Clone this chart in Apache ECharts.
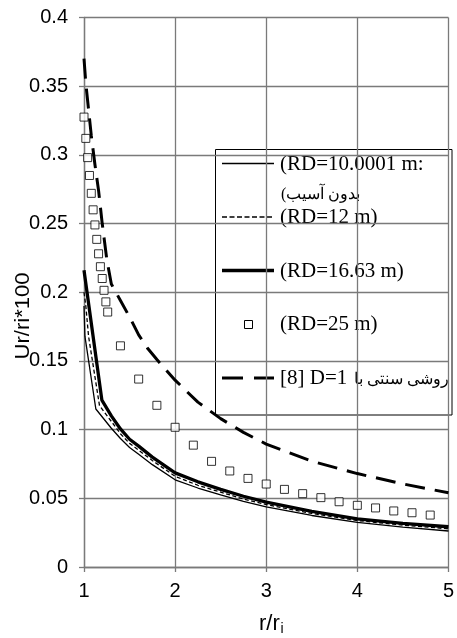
<!DOCTYPE html>
<html><head><meta charset="utf-8">
<script src="https://cdn.jsdelivr.net/npm/echarts@6/dist/echarts.min.js"></script>
<style>html,body{margin:0;padding:0;background:#fff}#c{width:457px;height:638px}</style>
</head><body><div id="c"></div>
<script>
// ---- data ----
const rd10X = [1.0, 1.01, 1.13, 1.3, 1.4, 1.5, 1.6, 1.75, 2.0, 2.25, 2.5, 2.75, 3.0, 3.5, 4.0, 4.5, 5.0];
const rd10Y = [0.190, 0.168, 0.115, 0.101, 0.0935, 0.0870, 0.082, 0.0745, 0.0635, 0.0575, 0.0525, 0.0478, 0.0438, 0.0375, 0.0325, 0.0290, 0.0262];

const rd12X = [1.0, 1.02, 1.05, 1.17, 1.3, 1.4, 1.5, 1.6, 1.75, 2.0, 2.25, 2.5, 2.75, 3.0, 3.5, 4.0, 4.5, 5.0];
const rd12Y = [0.200, 0.190, 0.168, 0.1175, 0.106, 0.097, 0.0900, 0.085, 0.0775, 0.0660, 0.0595, 0.0545, 0.0495, 0.0455, 0.0390, 0.0338, 0.0305, 0.0278];

const rd1663X = [1.0, 1.196, 1.3, 1.4, 1.5, 1.6, 1.75, 2.0, 2.25, 2.5, 2.75, 3.0, 3.5, 4.0, 4.5, 5.0];
const rd1663Y = [0.216, 0.1215, 0.110, 0.1005, 0.0930, 0.0880, 0.080, 0.0685, 0.062, 0.0565, 0.0515, 0.0472, 0.0405, 0.0350, 0.0318, 0.0293];

const rd25X = [1.0, 1.02, 1.04, 1.06, 1.08, 1.10, 1.12, 1.14, 1.16, 1.18, 1.20, 1.22, 1.24, 1.26, 1.4, 1.6, 1.8, 2.0, 2.2, 2.4, 2.6, 2.8, 3.0, 3.2, 3.4, 3.6, 3.8, 4.0, 4.2, 4.4, 4.6, 4.8];
const rd25Y = [0.3275, 0.312, 0.298, 0.285, 0.272, 0.260, 0.249, 0.2385, 0.228, 0.2186, 0.210, 0.2014, 0.193, 0.1856, 0.161, 0.1368, 0.1177, 0.1017, 0.0887, 0.0769, 0.0699, 0.0645, 0.0604, 0.0565, 0.0534, 0.0505, 0.0475, 0.0449, 0.043, 0.0408, 0.0395, 0.0378];

const d1X = [1.00, 1.02, 1.05, 1.08, 1.12, 1.16, 1.20, 1.25, 1.30, 1.40, 1.50, 1.60, 1.70, 1.80, 2.00, 2.25, 2.50, 2.75, 3.00, 3.50, 4.00, 4.50, 5.00];
const d1Y = [0.370, 0.352, 0.333, 0.314, 0.293, 0.274, 0.250, 0.224, 0.206, 0.194, 0.182, 0.169, 0.159, 0.151, 0.136, 0.120, 0.108, 0.098, 0.0895, 0.077, 0.0680, 0.0605, 0.0540];

const legendLabels = ['(RD=10.0001 m:', '(بدون آسیب', '(RD=12 m)', '(RD=16.63 m)', '(RD=25 m)', '[8] D=1', 'روشی سنتی با'];
const xTitle = ['r/r', 'i'];
const yTitle = 'Ur/ri*100';

const zip = (xs, ys) => xs.map((x, i) => [x, ys[i]]);

const chart = echarts.init(document.getElementById('c'), null, {renderer: 'canvas'});
const gridColor = '#7a7a7a';
const tickFont = {fontFamily: 'Liberation Sans, Arial, sans-serif', fontSize: 20, color: '#000'};
const legFont = 'Liberation Serif, Times New Roman, serif';

const legendGraphic = {
  type: 'group', z: 100, silent: true,
  children: [
    {type: 'rect', shape: {x: 215.5, y: 149.5, width: 236.5, height: 265.5}, style: {fill: '#fff', stroke: '#000', lineWidth: 1}},
    {type: 'line', shape: {x1: 222, y1: 163.5, x2: 274, y2: 163.5}, style: {stroke: '#000', lineWidth: 1.4}},
    {type: 'text', x: 280, y: 164, style: {text: legendLabels[0], font: '21px ' + legFont, fill: '#000', textVerticalAlign: 'middle'}},
    {type: 'text', x: 281, y: 195, style: {text: legendLabels[1], font: '16px ' + legFont, fill: '#000', textVerticalAlign: 'middle'}},
    {type: 'line', shape: {x1: 222, y1: 217, x2: 274, y2: 217}, style: {stroke: '#000', lineWidth: 1.4, lineDash: [5, 2.5]}},
    {type: 'text', x: 280, y: 217, style: {text: legendLabels[2], font: '21px ' + legFont, fill: '#000', textVerticalAlign: 'middle'}},
    {type: 'line', shape: {x1: 222, y1: 270.5, x2: 274, y2: 270.5}, style: {stroke: '#000', lineWidth: 3.5}},
    {type: 'text', x: 280, y: 271, style: {text: legendLabels[3], font: '21px ' + legFont, fill: '#000', textVerticalAlign: 'middle'}},
    {type: 'rect', shape: {x: 244.5, y: 320.5, width: 8, height: 8}, style: {fill: '#fff', stroke: '#000', lineWidth: 1}},
    {type: 'text', x: 280, y: 324, style: {text: legendLabels[4], font: '21px ' + legFont, fill: '#000', textVerticalAlign: 'middle'}},
    {type: 'line', shape: {x1: 222, y1: 378, x2: 274, y2: 378}, style: {stroke: '#000', lineWidth: 3, lineDash: [21, 11]}},
    {type: 'text', x: 280, y: 378, style: {text: legendLabels[5], font: '21px ' + legFont, fill: '#000', textVerticalAlign: 'middle'}},
    {type: 'text', x: 449, y: 380, style: {text: legendLabels[6], font: '16px ' + legFont, fill: '#000', textAlign: 'right', textVerticalAlign: 'middle'}}
  ]
};

chart.setOption({
  animation: false,
  backgroundColor: '#fff',
  grid: {left: 84, right: 5, top: 17.5, bottom: 71, containLabel: false},
  xAxis: {
    type: 'value', min: 1, max: 5, interval: 1,
    axisLine: {show: true, onZero: false, lineStyle: {color: gridColor, width: 1.3}},
    axisTick: {show: true, length: 5, lineStyle: {color: gridColor, width: 1.3}},
    axisLabel: Object.assign({margin: 14}, tickFont),
    splitLine: {show: true, lineStyle: {color: gridColor, width: 1.3}}
  },
  yAxis: {
    type: 'value', min: 0, max: 0.4, interval: 0.05,
    axisLine: {show: true, onZero: false, lineStyle: {color: gridColor, width: 1.3}},
    axisTick: {show: true, length: 5, lineStyle: {color: gridColor, width: 1.3}},
    axisLabel: Object.assign({margin: 16, formatter: v => String(parseFloat(v.toFixed(2)))}, tickFont),
    splitLine: {show: true, lineStyle: {color: gridColor, width: 1.3}}
  },
  series: [
    {name: legendLabels[0], type: 'line', data: zip(rd10X, rd10Y), showSymbol: false, smooth: false,
      lineStyle: {color: '#000', width: 1.3}},
    {name: legendLabels[2], type: 'line', data: zip(rd12X, rd12Y), showSymbol: false, smooth: false,
      lineStyle: {color: '#000', width: 1.3, type: [4, 2.5]}},
    {name: legendLabels[3], type: 'line', data: zip(rd1663X, rd1663Y), showSymbol: false, smooth: false,
      lineStyle: {color: '#000', width: 3.3}},
    {name: legendLabels[4], type: 'scatter', data: zip(rd25X, rd25Y), symbol: 'rect', symbolSize: 8,
      itemStyle: {color: '#fff', borderColor: '#000', borderWidth: 1}},
    {name: legendLabels[6], type: 'line', data: zip(d1X, d1Y), showSymbol: false, smooth: false,
      lineStyle: {color: '#000', width: 3, type: [20, 10]}}
  ],
  graphic: [
    legendGraphic,
    {type: 'text', x: 259, y: 624, silent: true, style: {text: xTitle[0], font: '22px Liberation Sans, Arial, sans-serif', fill: '#000', textVerticalAlign: 'middle'}},
    {type: 'text', x: 280.5, y: 629, silent: true, style: {text: xTitle[1], font: '14px Liberation Sans, Arial, sans-serif', fill: '#000', textVerticalAlign: 'middle'}},
    {type: 'text', x: 23, y: 316, rotation: Math.PI / 2, scaleX: 1.05, silent: true,
      style: {text: yTitle, font: '21px Liberation Sans, Arial, sans-serif', fill: '#000', textAlign: 'center', textVerticalAlign: 'middle'}}
  ]
});
</script></body></html>
